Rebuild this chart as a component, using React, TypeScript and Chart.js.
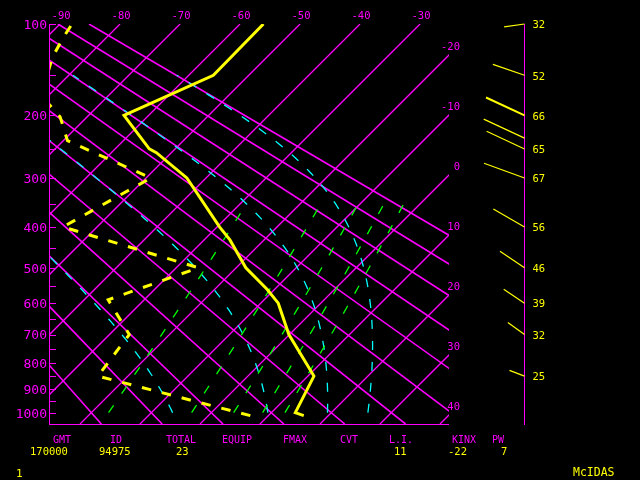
import React, { useEffect, useRef } from "react";
import { Chart, registerables } from "chart.js";

Chart.register(...registerables);

// ---------------- data ----------------
// temperature profile: pressure (hPa) and temperature (°C)
const tempP = [1013, 1000, 850, 700, 600, 560, 500, 430, 400, 300, 256, 250, 200, 150, 100];
const tempT = [15.9, 14.0, 11.0, -0.1, -7.1, -11.2, -18.4, -25.7, -29.6, -43.2, -52.5, -54.3, -64.1, -55.9, -56.1];

// dew point profile
const dewP = [1013, 850, 700, 590, 500, 400, 300, 237, 202, 174, 131, 112, 100];
const dewT = [7.0, -25.0, -26.7, -36.0, -26.3, -55.7, -49.2, -69.3, -74.5, -81.2, -85.7, -87.2, -88.0];

// winds: pressure (hPa), direction (deg), speed (kt)
const windP = [100, 150, 200, 233, 250, 300, 400, 500, 600, 700, 850];
const windDir = [262, 289, 295, 295, 295, 290, 300, 304, 304, 306, 291];
const windSpd = [32, 52, 66, 70, 65, 67, 56, 46, 39, 32, 25];

// axis ticks
const pressureLabels = [100, 200, 300, 400, 500, 600, 700, 800, 900, 1000];
const pressureMinor = [150, 250, 350, 450, 550, 650, 750, 850, 950];
const topTempLabels = [-90, -80, -70, -60, -50, -40, -30];
const rightTempLabels = [-20, -10, 0, 10, 20, 30, 40];

// background lines of the diagram
const isotherms = [-90, -80, -70, -60, -50, -40, -30, -20, -10, 0, 10, 20, 30, 40];
const dryAdiabats = [-20, -10, 0, 10, 20, 30, 40, 50, 60, 70, 80, 90]; // theta, °C
const moistAdiabats = [0, 30, 60, 90]; // theta-e, °C
const mixingRatios = [1, 3, 5, 7, 9]; // g/kg

// stability / station block
const headerLabels = ["GMT", "ID", "TOTAL", "EQUIP", "FMAX", "CVT", "L.I.", "KINX", "PW"];
const headerValues = ["170000", "94975", "23", "", "", "", "11", "-22", "7"];

// ---------------- layout / style constants ----------------
const headerX = [53, 110, 166, 222, 283, 340, 389, 452, 492];
const valueX = [30, 99, 176, 0, 0, 0, 394, 448, 501];

const KAPPA = 0.286;
const P_TOP = 100;
const P_BOT = 1050;
const Y_TOP = Math.pow(P_TOP, KAPPA);
const Y_BOT = Math.pow(P_BOT, KAPPA);
const X_MIN = -25.17;
const X_MAX = 41.5;
const SKEW = (X_MAX - X_MIN) / (Y_BOT - Y_TOP);

const MAG = "#ff00ff";
const YEL = "#ffff00";
const CYA = "#00ffff";
const GRN = "#00ff00";
const FONT = '"DejaVu Sans Mono", "Liberation Mono", monospace';

const pk = (p: number) => Math.pow(p, KAPPA);
const skewX = (t: number, p: number) => t + SKEW * (Y_BOT - pk(p));
const pt = (t: number, p: number) => ({ x: skewX(t, p), y: pk(p) });

function satThetaE(tc: number, p: number) {
  const tk = tc + 273.15;
  const es = 6.112 * Math.exp((17.67 * tc) / (tc + 243.5));
  if (es >= p * 0.6) return 1e9;
  const r = (622 * es) / (p - es);
  return (
    tk *
    Math.pow(1000 / p, 0.2854 * (1 - 0.00028 * r)) *
    Math.exp((3.376 / tk - 0.00254) * r * (1 + 0.00081 * r))
  );
}
function moistT(thetaE: number, p: number) {
  let lo = -140;
  let hi = 60;
  for (let i = 0; i < 60; i++) {
    const mid = (lo + hi) / 2;
    if (satThetaE(mid, p) > thetaE) hi = mid;
    else lo = mid;
  }
  return (lo + hi) / 2;
}
function mixT(w: number, p: number) {
  const e = (w * p) / (622 + w);
  const l = Math.log(e / 6.112);
  return (243.5 * l) / (17.67 - l);
}

const lineDs = (data: any[], color: string, width: number, dash: number[], order: number) => ({
  data,
  showLine: true,
  borderColor: color,
  backgroundColor: color,
  borderWidth: width,
  borderDash: dash,
  pointRadius: 0,
  pointHoverRadius: 0,
  fill: false,
  tension: 0,
  order,
});

function buildDatasets() {
  const ds: any[] = [];
  ds.push(lineDs(tempP.map((p, i) => pt(tempT[i], p)), YEL, 3, [], 0));
  ds.push(lineDs(dewP.map((p, i) => pt(dewT[i], p)), YEL, 3, [9.5, 11], 1));
  mixingRatios.forEach((w) => {
    const pts: any[] = [];
    for (let p = 1000; p >= 350; p -= 25) pts.push(pt(mixT(w, p), p));
    ds.push(lineDs(pts, GRN, 1.3, [9, 14], 5));
  });
  moistAdiabats.forEach((te) => {
    const pts: any[] = [];
    for (let p = 1000; p >= 150; p -= 10) pts.push(pt(moistT(te + 273.15, p), p));
    ds.push(lineDs(pts, CYA, 1.3, [9, 12], 6));
  });
  dryAdiabats.forEach((th) => {
    const tk = th + 273.15;
    const tAt = (p: number) => tk * Math.pow(p / 1000, KAPPA) - 273.15;
    ds.push(lineDs([pt(tAt(P_BOT), P_BOT), pt(tAt(P_TOP), P_TOP)], MAG, 1.6, [], 7));
  });
  isotherms.forEach((t) => {
    ds.push(lineDs([pt(t, P_BOT), pt(t, P_TOP)], MAG, 1.3, [], 8));
  });
  return ds;
}

const overlay = {
  id: "skewtOverlay",
  afterDraw(chart: any) {
    const { ctx, chartArea: a, scales } = chart;
    const xs = scales.x;
    const ys = scales.y;
    ctx.save();

    // frame
    ctx.strokeStyle = MAG;
    ctx.lineWidth = 1;
    ctx.beginPath();
    ctx.moveTo(a.left + 0.5, a.top);
    ctx.lineTo(a.left + 0.5, a.bottom + 1);
    ctx.moveTo(a.left, a.bottom + 0.5);
    ctx.lineTo(a.right, a.bottom + 0.5);
    // pressure ticks (inward)
    [...pressureLabels, ...pressureMinor].forEach((p) => {
      const py = Math.round(ys.getPixelForValue(pk(p))) + 0.5;
      ctx.moveTo(a.left, py);
      ctx.lineTo(a.left + 7, py);
    });
    ctx.stroke();

    // pressure labels
    ctx.fillStyle = MAG;
    ctx.font = `13px ${FONT}`;
    ctx.textAlign = "right";
    ctx.textBaseline = "middle";
    pressureLabels.forEach((p) => {
      const py = ys.getPixelForValue(pk(p));
      ctx.fillText(String(p), a.left - 2, py + 1.5);
    });

    // isotherm labels along top and right
    ctx.font = `10.5px ${FONT}`;
    ctx.textAlign = "center";
    topTempLabels.forEach((t) => {
      const px = xs.getPixelForValue(skewX(t, P_TOP));
      ctx.fillText(String(t), px + 1, a.top - 7.5);
    });
    ctx.textAlign = "right";
    rightTempLabels.forEach((t) => {
      const yc = Y_BOT - (X_MAX - t) / SKEW;
      const py = ys.getPixelForValue(yc);
      ctx.fillText(String(t), a.right + 11, py - 7.5);
    });

    // wind panel
    const wx = a.right + 75.5;
    ctx.strokeStyle = MAG;
    ctx.lineWidth = 1;
    ctx.beginPath();
    ctx.moveTo(wx, a.top);
    ctx.lineTo(wx, a.bottom + 1);
    ctx.stroke();
    const wys = windP.map((p) => ys.getPixelForValue(pk(p)));
    ctx.strokeStyle = YEL;
    ctx.fillStyle = YEL;
    ctx.textAlign = "left";
    ctx.font = `10.5px ${FONT}`;
    windP.forEach((p, i) => {
      const py = wys[i];
      const len = 0.643 * windSpd[i];
      const r = (windDir[i] * Math.PI) / 180;
      ctx.lineWidth = p === 200 ? 2 : 1.2;
      ctx.beginPath();
      ctx.moveTo(wx, py);
      ctx.lineTo(wx + len * Math.sin(r), py - len * Math.cos(r));
      ctx.stroke();
      const next = wys[i + 1];
      if (next === undefined || next - py >= 12) {
        ctx.fillText(String(windSpd[i]), wx + 8, py + 1.5);
      }
    });

    // station block
    ctx.textBaseline = "middle";
    ctx.font = `10px ${FONT}`;
    ctx.fillStyle = MAG;
    headerLabels.forEach((h, i) => ctx.fillText(h, headerX[i], 440));
    ctx.font = `10.5px ${FONT}`;
    ctx.fillStyle = YEL;
    headerValues.forEach((v, i) => {
      if (v) ctx.fillText(v, valueX[i], 452);
    });
    ctx.font = `11px ${FONT}`;
    ctx.fillText("1", 16, 474);
    ctx.font = `11.5px ${FONT}`;
    ctx.fillText("McIDAS", 573, 473);
    ctx.restore();
  },
};

export default function App() {
  const ref = useRef<HTMLCanvasElement | null>(null);
  useEffect(() => {
    if (!ref.current) return;
    const chart = new Chart(ref.current, {
      type: "scatter",
      data: { datasets: buildDatasets() },
      options: {
        responsive: false,
        animation: false,
        devicePixelRatio: 1,
        events: [],
        layout: { padding: { left: 49, top: 24, right: 191, bottom: 56 } },
        plugins: { legend: { display: false }, tooltip: { enabled: false } },
        scales: {
          x: { type: "linear", min: X_MIN, max: X_MAX, display: false },
          y: { type: "linear", min: Y_TOP, max: Y_BOT, reverse: true, display: false },
        },
      },
      plugins: [overlay],
    } as any);
    return () => chart.destroy();
  }, []);
  return (
    <div style={{ position: "fixed", left: 0, top: 0, width: 640, height: 480, background: "#000" }}>
      <canvas ref={ref} width={640} height={480} style={{ display: "block" }} />
    </div>
  );
}
